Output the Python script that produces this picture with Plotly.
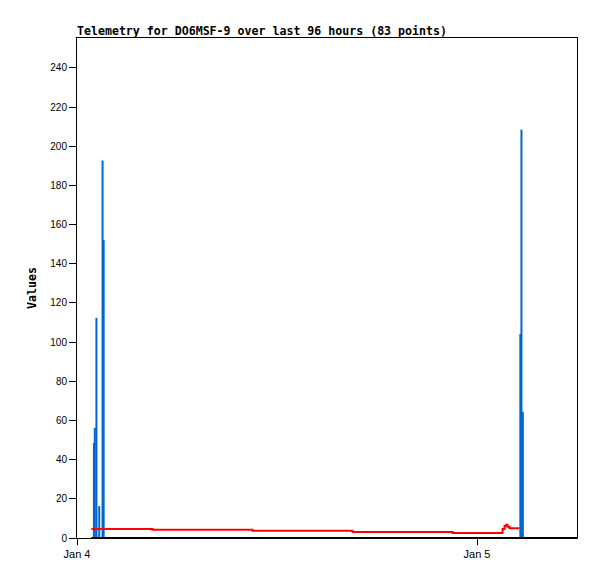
import plotly.graph_objects as go

# spikes (blue impulses)
spike_times = [
    "2024-01-04 01:01", "2024-01-04 01:04", "2024-01-04 01:10",
    "2024-01-04 01:20", "2024-01-04 01:32", "2024-01-04 01:36",
    "2024-01-05 02:36", "2024-01-05 02:40", "2024-01-05 02:45",
]
spike_values = [48.5, 56.3, 112.4, 16.3, 192.7, 152.2, 104.2, 208.4, 64.4]

# slowly varying series (red, stepped)
red_times = [
    "2024-01-04 00:52", "2024-01-04 04:32", "2024-01-04 10:32",
    "2024-01-04 16:32", "2024-01-04 22:32", "2024-01-05 01:32",
    "2024-01-05 01:39", "2024-01-05 01:45", "2024-01-05 01:50",
    "2024-01-05 01:57", "2024-01-05 02:33",
]
red_values = [4.6, 4.25, 3.7, 3.1, 2.6, 4.6, 6.1, 6.8, 5.8, 5.0, 5.0]

# flat zero series (black)
zero_times = ["2024-01-04 00:52", "2024-01-05 06:00"]
zero_values = [0, 0]

x_range = ["2024-01-04 00:00", "2024-01-05 06:00"]
y_range = [0, 255.3]

mono = "DejaVu Sans Mono"
sans = "Liberation Sans"

fig = go.Figure()

fig.add_trace(go.Bar(
    x=spike_times, y=spike_values,
    width=432000,
    marker=dict(color="#0066CC", line=dict(width=0)),
    showlegend=False,
))
fig.add_trace(go.Scatter(
    x=red_times, y=red_values, mode="lines",
    line=dict(color="#FF0000", width=2, shape="hv"),
    showlegend=False,
))
fig.add_trace(go.Scatter(
    x=zero_times, y=zero_values, mode="lines",
    line=dict(color="#000000", width=2),
    showlegend=False,
))

# page body has an 8px margin, so margins are trimmed to keep the plot box in place
fig.update_layout(
    width=597, height=579,
    margin=dict(l=69, r=28, t=30, b=49),
    paper_bgcolor="white", plot_bgcolor="white",
    barmode="overlay",
    title=dict(
        text="<b>Telemetry for DO6MSF-9 over last 96 hours (83 points)</b>",
        font=dict(family=mono, size=11.6, color="black"),
        x=0, xref="paper", xanchor="left",
        y=1 - 23 / 579, yref="container", yanchor="middle",
    ),
    xaxis=dict(
        type="date", range=x_range,
        dtick=86400000, tick0="2024-01-04", tickformat="%b %-d",
        ticks="outside", ticklen=6, tickcolor="black",
        showline=True, linecolor="black", linewidth=1, mirror=True,
        showgrid=False, zeroline=False,
        tickfont=dict(family=sans, size=11, color="black"),
    ),
    yaxis=dict(
        range=y_range, dtick=20, automargin=False,
        ticks="outside", ticklen=7, tickcolor="black",
        showline=True, linecolor="black", linewidth=1, mirror=True,
        showgrid=False, zeroline=False,
        tickfont=dict(family=sans, size=10, color="black"),
        title=dict(text="<b>Values</b>", standoff=11,
                   font=dict(family=mono, size=11.6, color="black")),
    ),
)

fig.write_html("out.html")
